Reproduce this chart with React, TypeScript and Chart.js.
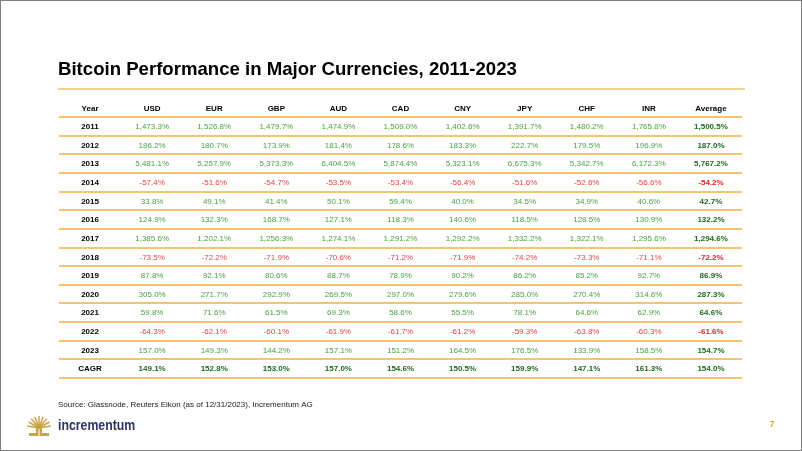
import React, { useEffect, useRef } from "react";
import { Chart, registerables } from "chart.js";

Chart.register(...registerables);

const COLUMNS = ["Year", "USD", "EUR", "GBP", "AUD", "CAD", "CNY", "JPY", "CHF", "INR", "Average"];
const ROWS = ["2011", "2012", "2013", "2014", "2015", "2016", "2017", "2018", "2019", "2020", "2021", "2022", "2023", "CAGR"];

const USD = [1473.3, 186.2, 5481.1, -57.4, 33.8, 124.9, 1385.6, -73.5, 87.8, 305.0, 59.8, -64.3, 157.0, 149.1];
const EUR = [1526.8, 180.7, 5257.9, -51.6, 49.1, 132.3, 1202.1, -72.2, 92.1, 271.7, 71.6, -62.1, 149.3, 152.8];
const GBP = [1479.7, 173.9, 5373.3, -54.7, 41.4, 168.7, 1256.3, -71.9, 80.6, 292.9, 61.5, -60.1, 144.2, 153.0];
const AUD = [1474.9, 181.4, 6404.5, -53.5, 50.1, 127.1, 1274.1, -70.6, 88.7, 269.5, 69.3, -61.9, 157.1, 157.0];
const CAD = [1509.0, 178.6, 5874.4, -53.4, 59.4, 118.3, 1291.2, -71.2, 78.9, 297.0, 58.6, -61.7, 151.2, 154.6];
const CNY = [1402.6, 183.3, 5323.1, -56.4, 40.0, 140.6, 1292.2, -71.9, 90.2, 279.6, 55.5, -61.2, 164.5, 150.5];
const JPY = [1391.7, 222.7, 6675.3, -51.6, 34.5, 118.5, 1332.2, -74.2, 86.2, 285.0, 78.1, -59.3, 176.5, 159.9];
const CHF = [1480.2, 179.5, 5342.7, -52.6, 34.9, 128.5, 1322.1, -73.3, 85.2, 270.4, 64.6, -63.8, 133.9, 147.1];
const INR = [1765.8, 196.9, 6172.3, -56.6, 40.6, 130.9, 1295.6, -71.1, 92.7, 314.6, 62.9, -60.3, 158.5, 161.3];
const AVERAGE = [1500.5, 187.0, 5767.2, -54.2, 42.7, 132.2, 1294.6, -72.2, 86.9, 287.3, 64.6, -61.6, 154.7, 154.0];

const SERIES: [string, number[]][] = [
  ["USD", USD], ["EUR", EUR], ["GBP", GBP], ["AUD", AUD], ["CAD", CAD],
  ["CNY", CNY], ["JPY", JPY], ["CHF", CHF], ["INR", INR], ["Average", AVERAGE],
];

const TITLE = "Bitcoin Performance in Major Currencies, 2011-2023";
const SOURCE = "Source: Glassnode, Reuters Eikon (as of 12/31/2023), Incrementum AG";
const FONT = "'Liberation Sans', Arial, sans-serif";

const fmt = (v: number) =>
  v.toLocaleString("en-US", { minimumFractionDigits: 1, maximumFractionDigits: 1 }) + "%";

const tablePlugin = {
  id: "tablePlugin",
  beforeDraw(chart: any) {
    const ctx = chart.ctx;
    ctx.save();
    ctx.fillStyle = "#ffffff";
    ctx.fillRect(0, 0, chart.width, chart.height);
    ctx.restore();
  },
  afterDatasetsDraw(chart: any) {
    const ctx = chart.ctx;
    const xs = chart.scales.x;
    const ys = chart.scales.y;
    ctx.save();
    ctx.textAlign = "center";
    ctx.textBaseline = "middle";
    ctx.font = `bold 8px ${FONT}`;
    ctx.fillStyle = "#000000";
    // column headers from the x scale
    const headerY = chart.chartArea.top - 8.5;
    xs.ticks.forEach((t: any, i: number) => {
      ctx.fillText(String(xs.getLabelForValue(t.value)), xs.getPixelForTick(i), headerY);
    });
    // Year column
    const yearX = xs.getPixelForValue(0);
    ROWS.forEach((r, i) => {
      ctx.fillText(r, yearX, ys.getPixelForValue(i) + 0.5);
    });
    chart.data.datasets.forEach((ds: any, di: number) => {
      const meta = chart.getDatasetMeta(di);
      meta.data.forEach((el: any, j: number) => {
        const v = ds.values[j];
        const bold = ds.label === "Average" || ROWS[j] === "CAGR";
        ctx.font = `${bold ? "bold " : ""}8px ${FONT}`;
        if (v < 0) ctx.fillStyle = bold ? "#e3202c" : "#e8404a";
        else ctx.fillStyle = bold ? "#1d6b1d" : "#4a9e44";
        ctx.fillText(fmt(v), el.x, el.y + 0.5);
      });
    });
    ctx.restore();
  },
  afterDraw(chart: any) {
    const ctx = chart.ctx;
    ctx.save();
    ctx.fillStyle = "#000000";
    ctx.font = `bold 18.6px ${FONT}`;
    ctx.textAlign = "left";
    ctx.textBaseline = "middle";
    ctx.fillText(TITLE, 58, 70);
    ctx.strokeStyle = "#f5d28c";
    ctx.lineWidth = 2;
    ctx.beginPath();
    ctx.moveTo(58, 89);
    ctx.lineTo(745, 89);
    ctx.stroke();
    ctx.fillStyle = "#222222";
    ctx.font = `8px ${FONT}`;
    ctx.fillText(SOURCE, 58, 405);
    ctx.save();
    ctx.translate(58, 426);
    ctx.scale(0.82, 1);
    ctx.fillStyle = "#2c3462";
    ctx.font = `bold 15px ${FONT}`;
    ctx.fillText("incrementum", 0, 0);
    ctx.restore();
    ctx.strokeStyle = "#c9a444";
    ctx.fillStyle = "#c9a444";
    ctx.lineWidth = 1.5;
    const cx = 39, cy = 428;
    for (let k = 0; k < 9; k++) {
      const a = Math.PI + (Math.PI * (k + 0.5)) / 9;
      ctx.beginPath();
      ctx.moveTo(cx, cy);
      ctx.lineTo(cx + Math.cos(a) * 12, cy + Math.sin(a) * 12);
      ctx.stroke();
    }
    ctx.fillRect(36, 424, 6, 12);
    ctx.fillRect(29, 433, 20, 3);
    ctx.fillStyle = "#ffffff";
    ctx.fillRect(38.5, 429, 1, 7);
    ctx.fillStyle = "#d4a82a";
    ctx.font = `bold 9px ${FONT}`;
    ctx.textAlign = "center";
    ctx.fillText("7", 772, 425);
    ctx.strokeStyle = "#7f7f7f";
    ctx.lineWidth = 1;
    ctx.strokeRect(0.5, 0.5, chart.width - 1, chart.height - 1);
    ctx.restore();
  },
};

export default function App() {
  const ref = useRef<HTMLCanvasElement>(null);
  useEffect(() => {
    if (!ref.current) return;
    const datasets = SERIES.map(([name, vals]) => ({
      label: name,
      values: vals,
      data: ROWS.map((r) => ({ x: name, y: r })),
      pointRadius: 0,
      pointHoverRadius: 0,
    }));
    const chart = new Chart(ref.current, {
      type: "scatter",
      data: { datasets: datasets as any },
      options: {
        responsive: false,
        animation: false,
        devicePixelRatio: 1,
        layout: { padding: { left: 59, right: 60, top: 105, bottom: 73 } },
        plugins: { legend: { display: false }, tooltip: { enabled: false }, title: { display: false } },
        scales: {
          x: {
            type: "category",
            labels: COLUMNS,
            position: "top",
            offset: true,
            grid: { display: false },
            border: { display: false },
            ticks: { display: false, autoSkip: false },
            afterFit: (s: any) => { s.height = 12; },
          },
          y: {
            type: "category",
            labels: ROWS,
            offset: true,
            grid: { display: true, offset: true, color: "#f4c56c", lineWidth: 2, drawTicks: false },
            border: { display: false },
            ticks: { display: false },
            afterFit: (s: any) => { s.width = 0; },
          },
        },
      } as any,
      plugins: [tablePlugin],
    });
    return () => chart.destroy();
  }, []);
  return (
    <div style={{ position: "absolute", left: 0, top: 0, width: 802, height: 451 }}>
      <canvas ref={ref} width={802} height={451} style={{ display: "block" }} />
    </div>
  );
}
